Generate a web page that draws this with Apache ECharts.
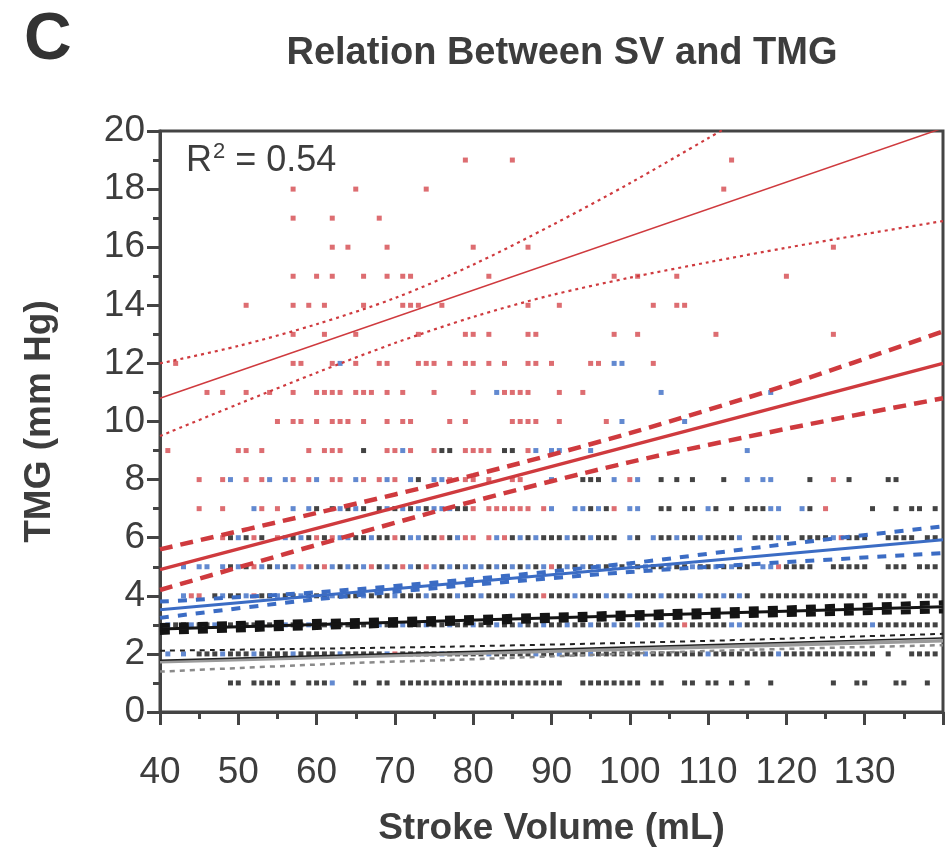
<!DOCTYPE html>
<html>
<head>
<meta charset="utf-8">
<script src="https://cdn.jsdelivr.net/npm/echarts@6/dist/echarts.min.js"></script>
<style>
  html, body { margin: 0; padding: 0; background: #ffffff; }
  #chart { width: 948px; height: 849px; }
</style>
</head>
<body>
<div id="chart"></div>
<script>
// Axis ticks
const xTicks = [40, 50, 60, 70, 80, 90, 100, 110, 120, 130];
const yTicks = [0, 2, 4, 6, 8, 10, 12, 14, 16, 18, 20];

// Individual patients, grouped by TMG value (mm Hg): [TMG, [stroke volumes (mL)]]
const redRows = [
  [19, [79, 85, 113]],
  [18, [57, 65, 74, 112]],
  [17, [57, 62, 68]],
  [16, [62, 64, 69, 80, 87, 126]],
  [15, [57, 60, 62, 66, 69, 71, 72, 82, 98, 101, 106, 120]],
  [14, [51, 57, 59, 61, 66, 71, 72, 73, 76, 87, 91, 103, 106, 107]],
  [13, [57, 61, 65, 73, 79, 80, 82, 87, 88, 98, 101, 111, 126]],
  [12, [42, 57, 58, 62, 65, 68, 69, 73, 74, 75, 77, 79, 80, 82, 84, 87, 88, 90, 95, 96, 103]],
  [11, [46, 48, 51, 54, 57, 60, 61, 62, 63, 65, 66, 67, 69, 71, 75, 80, 84, 85, 86, 87, 91, 94]],
  [10, [55, 57, 58, 60, 62, 63, 64, 66, 69, 71, 72, 77, 79, 85, 86, 87, 88, 91, 97]],
  [9, [41, 50, 51, 53, 59, 61, 62, 63, 69, 70, 72, 75, 79, 80, 81, 82, 87]],
  [8, [45, 48, 51, 53, 57, 59, 62, 63, 66, 68, 70, 77, 79, 80, 82, 85, 86, 100, 126]],
  [7, [45, 48, 53, 55, 80, 82, 83, 84, 85, 86, 87, 89, 98, 125]],
  [6, [48, 52, 55, 60, 62, 70, 76, 79, 80, 82, 84, 127]],
  [5, [52, 58, 61, 67, 71, 74, 90, 119]],
  [4, [44, 45, 52, 89]],
  [3, [107]],
  [2, [70]]
];

const blueRows = [
  [12, [63, 98, 99]],
  [11, [83, 104, 118]],
  [10, [99, 107]],
  [9, [71, 88, 90, 91, 95, 115]],
  [8, [49, 54, 56, 60, 65, 69, 72, 75, 76, 90, 98, 101, 115, 117, 118]],
  [7, [52, 57, 59, 63, 65, 69, 71, 73, 75, 76, 77, 90, 93, 94, 96, 100, 101, 110, 118, 119, 122]],
  [6, [50, 56, 58, 63, 64, 67, 72, 73, 78, 83, 86, 88, 92, 95, 100, 103, 106, 109, 114, 119, 126]],
  [5, [43, 45, 46, 48, 50, 53, 55, 57, 59, 62, 64, 66, 69, 72, 75, 77, 79, 81, 83, 85, 87, 89, 92, 94, 96, 98, 100, 102, 105, 108, 111, 113, 117, 118]],
  [4, [43, 48, 51, 55, 58, 62, 66, 70, 74, 78, 81, 85, 93, 97, 100, 104, 109, 112, 114]],
  [3, [41, 44, 47, 50, 53, 56, 59, 62, 65, 68, 71, 74, 77, 80, 83, 86, 89, 92, 95, 98, 101, 104, 113, 114, 131]],
  [2, [41, 43, 48, 52, 57, 63, 69, 76, 82, 88, 91, 95, 102, 110, 119]],
  [1, [62]]
];

const blackRows = [
  [9, [66, 76, 77, 84, 85]],
  [8, [73, 94, 95, 96, 104, 106, 108, 112, 123, 128, 133, 134]],
  [7, [60, 62, 64, 66, 68, 70, 72, 74, 78, 79, 95, 97, 104, 105, 107, 108, 111, 113, 115, 116, 117, 123, 131, 134, 136, 137, 139]],
  [6, [49, 51, 53, 57, 59, 61, 65, 66, 68, 69, 71, 74, 75, 77, 85, 87, 89, 90, 91, 93, 94, 96, 97, 98, 101, 104, 105, 107, 108, 110, 111, 112, 113, 116, 117, 118, 120, 122, 123, 124, 125, 128, 129, 130, 133, 134, 135, 136, 138, 139]],
  [5, [49, 51, 54, 56, 60, 63, 65, 68, 70, 73, 76, 78, 80, 82, 84, 86, 88, 91, 93, 95, 97, 99, 101, 103, 104, 106, 107, 109, 110, 112, 114, 115, 120, 121, 122, 123, 126, 127, 128, 129, 130, 133, 134, 135, 137, 138, 139]],
  [4, [47, 49, 50, 53, 54, 56, 57, 59, 60, 61, 63, 64, 65, 67, 68, 69, 71, 72, 73, 75, 76, 77, 79, 80, 82, 83, 84, 86, 87, 88, 90, 91, 92, 94, 95, 96, 98, 99, 101, 102, 103, 105, 106, 107, 108, 110, 111, 113, 115, 117, 118, 119, 120, 121, 122, 123, 124, 125, 126, 127, 128, 129, 130, 132, 133, 134, 135, 137, 138, 139]],
  [3, [42, 43, 45, 46, 48, 49, 51, 52, 54, 55, 57, 58, 60, 61, 63, 64, 66, 67, 69, 70, 72, 73, 75, 76, 78, 79, 81, 82, 84, 85, 87, 88, 90, 91, 93, 94, 96, 97, 99, 100, 102, 103, 105, 106, 108, 109, 110, 111, 112, 115, 116, 117, 118, 119, 120, 121, 122, 123, 124, 125, 126, 127, 128, 129, 130, 132, 133, 134, 135, 136, 137, 138, 139]],
  [2, [45, 46, 47, 49, 50, 51, 53, 54, 55, 56, 58, 59, 60, 61, 62, 64, 65, 66, 67, 68, 71, 72, 73, 74, 75, 77, 78, 79, 80, 81, 83, 84, 85, 86, 87, 89, 90, 92, 93, 94, 96, 97, 98, 99, 100, 101, 103, 104, 105, 106, 107, 108, 109, 111, 112, 113, 114, 115, 116, 117, 118, 120, 121, 122, 123, 124, 125, 126, 127, 128, 129, 130, 131, 133, 136, 137, 138, 139]],
  [1, [49, 50, 52, 53, 54, 55, 57, 59, 60, 61, 65, 66, 68, 69, 71, 72, 73, 74, 75, 76, 77, 78, 79, 80, 81, 82, 83, 84, 85, 86, 87, 88, 89, 90, 91, 94, 95, 96, 97, 98, 99, 100, 101, 103, 104, 107, 108, 110, 111, 113, 115, 118, 126, 129, 130, 134, 135, 138]]
];

// Regression lines and confidence bounds: [SV, TMG]
const redThinFit = [[40, 10.8], [140, 20.1]];
const redThinUpper = [[40, 12.0], [50, 12.6], [60, 13.35], [70, 14.25], [80, 15.4], [90, 16.75], [100, 18.2], [110, 19.75], [120, 21.3]];
const redThinLower = [[40, 9.5], [50, 10.6], [60, 11.68], [70, 12.7], [80, 13.6], [90, 14.35], [100, 14.95], [110, 15.48], [120, 15.98], [130, 16.45], [140, 16.9]];

const redFit = [[40, 4.9], [140, 12.0]];
const redUpper = [[40, 5.6], [60, 6.85], [80, 8.15], [100, 9.6], [120, 11.25], [140, 13.1]];
const redLower = [[40, 4.2], [60, 5.75], [80, 7.25], [100, 8.6], [120, 9.75], [140, 10.8]];

const blueFit = [[40, 3.52], [140, 5.93]];
const blueUpper = [[40, 3.8], [60, 4.12], [80, 4.58], [100, 5.12], [120, 5.78], [140, 6.39]];
const blueLower = [[40, 3.24], [60, 3.88], [80, 4.38], [100, 4.82], [120, 5.16], [140, 5.47]];

const blackFit = [[40, 2.86], [140, 3.62]];
const blackUpper = [[40, 2.98], [90, 3.33], [140, 3.76]];
const blackLower = [[40, 2.74], [90, 3.15], [140, 3.48]];

const grayFit = [[40, 1.73], [140, 2.45]];
const grayFitDark = [[40, 1.78], [140, 2.55]];
const grayUpper = [[40, 2.11], [77, 2.25], [110, 2.45], [140, 2.69]];
const grayLower = [[40, 1.39], [65, 1.69], [77, 1.79], [110, 2.1], [140, 2.3]];

const rowsToPoints = rows => rows.flatMap(([tmg, svs]) => svs.map(sv => [sv, tmg]));

const RED = '#cf3a3e';
const BLUE = '#3b6cc4';
const BLACK = '#141414';
const TEXT = '#3d3d3d';
const FONT = '"Liberation Sans", Arial, "Noto Sans", sans-serif';

function pointSeries(rows, color) {
  return {
    type: 'scatter',
    data: rowsToPoints(rows),
    symbol: 'rect',
    symbolSize: 5,
    itemStyle: { color: color },
    silent: true,
    z: 2
  };
}

function lineSeries(data, color, width, dash, smooth, z) {
  return {
    type: 'line',
    data: data,
    showSymbol: false,
    smooth: smooth ? 0.3 : false,
    lineStyle: { color: color, width: width, type: dash || 'solid', cap: 'butt' },
    silent: true,
    clip: true,
    z: z || 5
  };
}

const chart = echarts.init(document.getElementById('chart'), null, { renderer: 'canvas' });

chart.setOption({
  animation: false,
  backgroundColor: '#ffffff',
  textStyle: { fontFamily: FONT },
  grid: {
    left: 160, right: 5, top: 131, bottom: 137,
    outerBoundsMode: 'none',
    containLabel: false,
    show: true, borderColor: '#444', borderWidth: 3, backgroundColor: 'transparent'
  },
  title: {
    text: 'Relation Between SV and TMG',
    left: 557, top: 30, textAlign: 'center',
    textStyle: { fontFamily: FONT, fontSize: 38, fontWeight: 'bold', color: TEXT }
  },
  graphic: [
    {
      type: 'text', left: 24, top: 8,
      style: { text: 'C', fontFamily: FONT, fontSize: 66, fontWeight: 'bold', fill: '#333' }
    },
    {
      type: 'text', left: 186, top: 141,
      style: {
        text: '{a|R}{s|2}{a| = 0.54}',
        rich: {
          a: { fontFamily: FONT, fontSize: 36, fill: TEXT, verticalAlign: 'bottom' },
          s: { fontFamily: FONT, fontSize: 22, fill: TEXT, verticalAlign: 'top', padding: [0, 0, 16, 1] }
        }
      }
    }
  ],
  xAxis: {
    type: 'value', min: 40, max: 140, interval: 10,
    name: 'Stroke Volume (mL)', nameLocation: 'middle', nameGap: 98,
    nameTextStyle: { fontFamily: FONT, fontSize: 37, fontWeight: 'bold', color: TEXT },
    axisLine: { show: true, onZero: false, lineStyle: { color: '#444', width: 3 } },
    axisTick: { show: true, inside: false, length: 13, lineStyle: { color: '#444', width: 3 } },
    minorTick: { show: true, splitNumber: 2, length: 7, lineStyle: { color: '#444', width: 3 } },
    splitLine: { show: false },
    axisLabel: {
      margin: 42, fontFamily: FONT, fontSize: 37, color: TEXT,
      showMaxLabel: false,
      formatter: v => (xTicks.includes(v) ? String(v) : '')
    }
  },
  yAxis: {
    type: 'value', min: 0, max: 20, interval: 2,
    name: 'TMG (mm Hg)', nameLocation: 'middle', nameGap: 102, nameRotate: 90,
    nameTextStyle: { fontFamily: FONT, fontSize: 37, fontWeight: 'bold', color: TEXT },
    axisLine: { show: true, onZero: false, lineStyle: { color: '#444', width: 3 } },
    axisTick: { show: true, inside: false, length: 13, lineStyle: { color: '#444', width: 3 } },
    minorTick: { show: true, splitNumber: 2, length: 7, lineStyle: { color: '#444', width: 3 } },
    splitLine: { show: false },
    axisLabel: {
      margin: 15, fontFamily: FONT, fontSize: 37, color: TEXT,
      formatter: v => (yTicks.includes(v) ? String(v) : '')
    }
  },
  series: [
    pointSeries(blackRows, BLACK),
    pointSeries(blueRows, BLUE),
    pointSeries(redRows, '#d4484d'),

    // lowest group: fit with dashed bounds
    lineSeries(grayLower, '#8a8a8a', 2.5, [5, 5], true, 4),
    lineSeries(grayFit, '#9a9a9a', 3.5, 'solid', false, 4),
    lineSeries(grayFitDark, '#222', 1.5, 'solid', false, 5),
    lineSeries(grayUpper, '#222', 2, [5, 5], true, 5),

    // black group
    lineSeries(blackUpper, BLACK, 5, [10, 9], true, 6),
    lineSeries(blackLower, BLACK, 5, [10, 9], true, 6),
    lineSeries(blackFit, BLACK, 3, 'solid', false, 6),

    // blue group
    lineSeries(blueUpper, BLUE, 4, [9, 9], true, 6),
    lineSeries(blueLower, BLUE, 4, [9, 9], true, 6),
    lineSeries(blueFit, BLUE, 3, 'solid', false, 6),

    // red group
    lineSeries(redUpper, RED, 4.5, [13, 8], true, 7),
    lineSeries(redLower, RED, 4.5, [13, 8], true, 7),
    lineSeries(redFit, RED, 3.5, 'solid', false, 7),

    // red thin fit with dotted bounds
    lineSeries(redThinUpper, RED, 2.2, [3, 4], true, 7),
    lineSeries(redThinLower, RED, 2.2, [3, 4], true, 7),
    lineSeries(redThinFit, RED, 1.5, 'solid', false, 7)
  ]
});
</script>
</body>
</html>
